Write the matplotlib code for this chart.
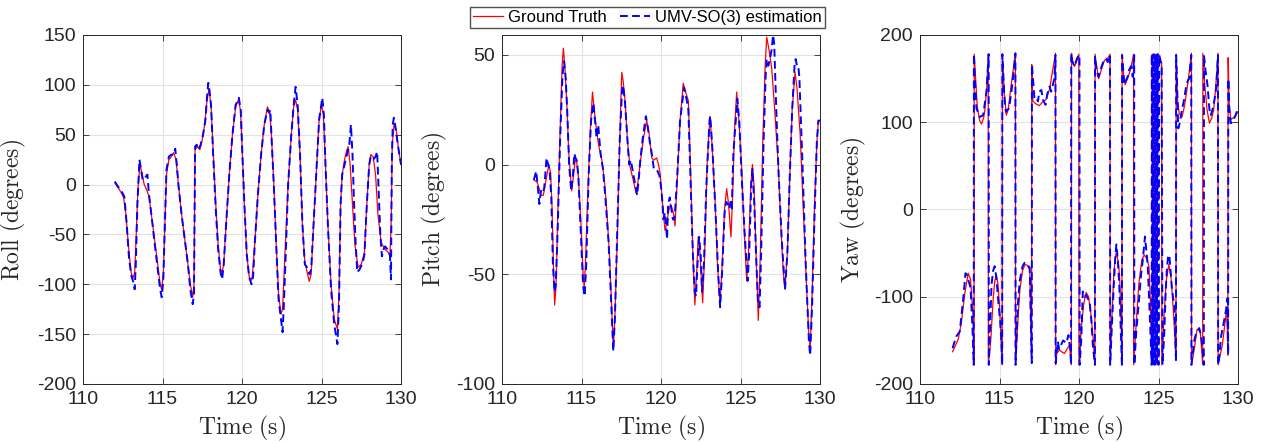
import numpy as np
import matplotlib
matplotlib.use('Agg')
import matplotlib.pyplot as plt

plt.rcParams['font.family'] = ['Liberation Sans', 'DejaVu Sans']
plt.rcParams['mathtext.fontset'] = 'cm'
plt.rcParams['axes.unicode_minus'] = False

# Roll (ground truth / estimation)
roll_gt_t = [112.0, 112.2, 112.4, 112.55, 112.7, 112.85, 113.0, 113.12, 113.25, 113.35, 113.45, 113.58, 113.7, 113.85,
             114.0, 114.15, 114.3, 114.5, 114.7, 114.85, 114.95, 115.05, 115.15, 115.25, 115.4, 115.55, 115.7, 115.85,
             116.0, 116.2, 116.4, 116.6, 116.75, 116.9, 116.98, 117.05, 117.2, 117.35, 117.5, 117.65, 117.8, 117.92,
             118.05, 118.2, 118.35, 118.5, 118.65, 118.75, 118.85, 119.0, 119.2, 119.4, 119.6, 119.77, 119.9, 120.0,
             120.15, 120.3, 120.45, 120.55, 120.65, 120.8, 121.0, 121.2, 121.4, 121.6, 121.75, 121.85, 122.0, 122.15,
             122.3, 122.45, 122.55, 122.7, 122.9, 123.1, 123.25, 123.37, 123.5, 123.65, 123.8, 123.95, 124.1, 124.23,
             124.35, 124.5, 124.7, 124.85, 125.0, 125.12, 125.25, 125.4, 125.6, 125.8, 126.0, 126.1, 126.2, 126.3,
             126.45, 126.6, 126.68, 126.8, 126.95, 127.1, 127.3, 127.5, 127.7, 127.85, 128.0, 128.1, 128.25, 128.4,
             128.55, 128.75, 129.0, 129.2, 129.3, 129.38, 129.45, 129.56, 129.7, 129.85, 130.0]
roll_gt = [2, -3, -8, -13, -30, -60, -85, -95, -88, -50, -5, 20, 12, 0,
           -5, -12, -30, -55, -80, -100, -105, -90, -40, 10, 25, 28, 32, 25,
           0, -30, -55, -80, -100, -113, -100, 35, 38, 35, 45, 60, 85, 95,
           80, 30, -20, -60, -85, -88, -80, -40, 10, 50, 78, 85, 75, 40,
           -20, -70, -92, -97, -92, -60, -10, 30, 60, 78, 72, 50, 0, -60,
           -110, -130, -125, -70, 0, 50, 78, 85, 75, 30, -40, -78, -88, -97,
           -90, -40, 20, 65, 80, 70, 20, -40, -100, -135, -145, -110, -20, 10,
           25, 35, 38, 20, -20, -60, -83, -80, -68, -20, 20, 30, 28, 10,
           -30, -58, -65, -68, -72, -40, 40, 60, 55, 35, 20]

roll_est_t = [112.0, 112.2, 112.4, 112.5, 112.6, 112.75, 112.9, 113.05, 113.15, 113.25, 113.32, 113.42, 113.55, 113.65,
              113.75, 113.85, 113.95, 114.05, 114.15, 114.3, 114.5, 114.7, 114.85, 114.95, 115.05, 115.15, 115.25,
              115.4, 115.55, 115.7, 115.8, 115.9, 116.0, 116.2, 116.4, 116.6, 116.75, 116.9, 116.98, 117.05, 117.15,
              117.25, 117.4, 117.55, 117.7, 117.82, 117.88, 117.95, 118.05, 118.2, 118.35, 118.5, 118.65, 118.75,
              118.85, 119.0, 119.2, 119.4, 119.6, 119.8, 119.92, 120.0, 120.15, 120.3, 120.45, 120.6, 120.7, 120.8,
              121.0, 121.2, 121.4, 121.6, 121.7, 121.78, 121.85, 122.0, 122.15, 122.3, 122.45, 122.55, 122.62, 122.75,
              122.9, 123.1, 123.25, 123.37, 123.5, 123.65, 123.8, 123.95, 124.05, 124.15, 124.25, 124.35, 124.5, 124.7,
              124.85, 125.05, 125.15, 125.25, 125.4, 125.6, 125.8, 126.0, 126.1, 126.2, 126.3, 126.45, 126.6, 126.75,
              126.85, 126.95, 127.05, 127.15, 127.25, 127.4, 127.6, 127.7, 127.85, 128.0, 128.1, 128.25, 128.4, 128.5,
              128.6, 128.7, 128.8, 128.9, 129.0, 129.15, 129.3, 129.37, 129.42, 129.48, 129.55, 129.65, 129.8, 130.0]
roll_est = [3, -2, -6, -9, -12, -40, -75, -92, -97, -105, -80, -20, 25, 15,
            5, 5, 8, 10, -10, -30, -58, -85, -105, -113, -95, -40, 15,
            28, 30, 30, 36, 20, 0, -30, -55, -80, -105, -120, -110, 38, 40,
            35, 40, 50, 65, 92, 102, 95, 80, 25, -25, -65, -88, -95,
            -80, -40, 10, 50, 80, 87, 75, 40, -20, -70, -93, -100, -92, -60,
            -10, 30, 60, 75, 72, 75, 50, 0, -60, -115, -135, -148, -125, -70,
            0, 50, 80, 98, 80, 30, -40, -80, -82, -85, -90, -85, -40, 20,
            65, 87, 70, 20, -40, -105, -140, -160, -120, -20, 10, 20, 30, 40,
            60, 30, -20, -60, -88, -85, -78, -70, -20, 20, 28, 25, 28, 33,
            -10, -50, -72, -65, -62, -65, -70, -95, 20, 60, 67, 58, 40, 20]

# Pitch
pitch_gt_t = [112.0, 112.2, 112.3, 112.45, 112.6, 112.77, 112.95, 113.06, 113.15, 113.25, 113.31, 113.4, 113.5, 113.65,
              113.78, 113.86, 113.95, 114.07, 114.2, 114.38, 114.5, 114.6, 114.7, 114.8, 114.95, 115.1, 115.17, 115.25,
              115.38, 115.55, 115.69, 115.8, 115.97, 116.1, 116.28, 116.45, 116.6, 116.75, 116.9, 117.0, 117.1, 117.26,
              117.4, 117.53, 117.62, 117.74, 117.9, 118.05, 118.25, 118.43, 118.55, 118.68, 118.9, 119.1, 119.25,
              119.42, 119.55, 119.73, 119.84, 119.94, 120.1, 120.25, 120.35, 120.46, 120.6, 120.78, 120.88, 121.0,
              121.2, 121.4, 121.55, 121.72, 121.85, 122.0, 122.13, 122.25, 122.34, 122.45, 122.62, 122.75, 122.9,
              123.08, 123.2, 123.4, 123.55, 123.71, 123.85, 124.0, 124.13, 124.25, 124.4, 124.5, 124.62, 124.76,
              124.9, 125.07, 125.2, 125.39, 125.5, 125.65, 125.75, 125.85, 126.0, 126.12, 126.25, 126.4, 126.55,
              126.65, 126.8, 126.96, 127.15, 127.38, 127.55, 127.7, 127.8, 127.95, 128.1, 128.25, 128.43, 128.55,
              128.75, 128.95, 129.15, 129.3, 129.38, 129.5, 129.65, 129.8, 129.9, 130.0]
pitch_gt = [-7, -8, -10, -14, -14, -7, 0, -4, -20, -50, -64, -55, -25, 14,
            45, 53, 45, 29, 5, -12, -5, 2, 1, -5, -25, -50, -56, -45,
            -16, 15, 33, 25, 14, 8, 2, -8, -22, -40, -65, -84, -70, -31,
            10, 42, 38, 29, 10, -1, -7, -13, -8, 0, 12, 20, 14,
            3, 2, 3, 0, -4, -18, -30, -27, -22, -18, -22, -28, -10,
            20, 37, 33, 29, 0, -40, -64, -48, -33, -40, -63, -40, 0,
            22, 10, -16, -45, -64, -45, -20, -11, -18, -33, -15, 15, 33,
            20, -1, -25, -53, -40, -10, 0, -10, -45, -71, -40, 10, 45,
            58, 52, 44, 25, -1, -30, -50, -56, -40, -5, 25, 42, 35,
            14, -20, -55, -78, -84, -60, -20, 10, 20, 20]

pitch_est_t = [112.0, 112.08, 112.15, 112.25, 112.35, 112.45, 112.55, 112.65, 112.72, 112.8, 112.9, 113.0, 113.1,
               113.2, 113.3, 113.38, 113.5, 113.65, 113.8, 113.9, 114.0, 114.1, 114.22, 114.35, 114.45, 114.55,
               114.62, 114.7, 114.8, 114.95, 115.1, 115.2, 115.3, 115.45, 115.6, 115.75, 115.85, 115.95, 116.05,
               116.12, 116.2, 116.35, 116.5, 116.7, 116.85, 117.0, 117.1, 117.25, 117.4, 117.55, 117.62, 117.74,
               117.9, 118.0, 118.1, 118.2, 118.35, 118.5, 118.62, 118.7, 118.85, 119.05, 119.15, 119.3, 119.42,
               119.55, 119.65, 119.78, 119.9, 120.0, 120.1, 120.15, 120.25, 120.32, 120.38, 120.45, 120.55, 120.65,
               120.75, 120.85, 121.0, 121.2, 121.45, 121.6, 121.72, 121.85, 122.0, 122.12, 122.2, 122.3, 122.4,
               122.5, 122.58, 122.7, 122.85, 123.05, 123.1, 123.25, 123.45, 123.6, 123.72, 123.85, 124.0, 124.1,
               124.2, 124.3, 124.38, 124.45, 124.55, 124.7, 124.8, 124.92, 125.07, 125.25, 125.45, 125.55, 125.68,
               125.75, 125.85, 126.0, 126.1, 126.2, 126.3, 126.45, 126.58, 126.65, 126.75, 126.85, 126.95, 127.05,
               127.12, 127.25, 127.4, 127.6, 127.8, 127.95, 128.1, 128.25, 128.4, 128.47, 128.55, 128.63, 128.7,
               128.9, 129.1, 129.3, 129.38, 129.5, 129.65, 129.8, 129.9, 130.0]
pitch_est = [-7, -5, -3, -10, -18, -12, -13, -11, -5, 3, 0, -3, -15,
             -45, -58, -55, -30, 10, 40, 47, 40, 25, 0, -12, -6, 5,
             3, 2, -5, -30, -55, -60, -45, -5, 20, 28, 20, 12, 18,
             12, 5, -2, -15, -35, -60, -85, -70, -30, 10, 34, 36, 28,
             10, 0, 2, -2, -8, -14, -5, 2, 12, 22, 18, 10, 5,
             -2, -2, -3, -5, -10, -18, -25, -22, -28, -34, -18, -15, -20,
             -25, -25, -8, 20, 35, 30, 25, -5, -40, -58, -60, -45, -33,
             -42, -58, -45, -10, 20, 22, 5, -25, -50, -65, -48, -22, -17,
             -18, -20, -17, -20, 5, 20, 30, 20, -5, -30, -53, -40, -8,
             -2, -15, -45, -63, -65, -40, 10, 40, 48, 45, 48, 52, 59,
             55, 25, -5, -35, -57, -40, -5, 25, 45, 48, 45, 45, 40,
             0, -45, -80, -87, -65, -25, 10, 20, 20]

# Yaw (wrapped to +/-180)
yaw_gt_t = [112.05, 112.2, 112.4, 112.6, 112.82, 113.03, 113.18, 113.34, 113.4, 113.41, 113.5, 113.6, 113.75, 113.87,
            114.0, 114.08, 114.2, 114.29, 114.3, 114.45, 114.6, 114.7, 114.8, 114.9, 115.0, 115.15, 115.17, 115.18,
            115.3, 115.43, 115.55, 115.75, 115.9, 116.0, 116.01, 116.15, 116.28, 116.45, 116.6, 116.75, 116.9,
            117.02, 117.03, 117.1, 117.3, 117.5, 117.7, 117.93, 118.15, 118.35, 118.52, 118.53, 118.6, 118.77,
            118.9, 119.08, 119.25, 119.4, 119.52, 119.53, 119.6, 119.72, 119.85, 119.99, 120.0, 120.15, 120.3,
            120.45, 120.6, 120.75, 120.9, 121.0, 121.01, 121.1, 121.24, 121.4, 121.6, 121.8, 121.95, 121.96, 122.1,
            122.2, 122.33, 122.45, 122.55, 122.65, 122.7, 122.71, 122.8, 122.9, 123.05, 123.2, 123.35, 123.43,
            123.44, 123.6, 123.77, 123.95, 124.1, 124.25, 124.4, 124.5, 124.6, 124.61, 124.67, 124.72, 124.78,
            124.84, 124.9, 124.96, 125.0, 125.1, 125.2, 125.21, 125.35, 125.5, 125.65, 125.8, 125.95, 126.1, 126.11,
            126.2, 126.3, 126.48, 126.65, 126.8, 126.95, 127.07, 127.08, 127.25, 127.42, 127.55, 127.63, 127.78,
            127.79, 127.9, 128.05, 128.2, 128.35, 128.47, 128.6, 128.74, 128.75, 128.9, 129.0, 129.15, 129.3,
            129.36, 129.38, 129.45, 129.55, 129.7, 129.85, 130.0]
yaw_gt = [-163, -157, -149, -130, -96, -73, -80, -122, -178, 178, 150, 118, 102, 98,
          105, 114, 140, 178, -178, -150, -103, -82, -75, -85, -111, -170, -178, 178,
          135, 108, 115, 145, 165, 179, -178, -130, -92, -70, -63, -64, -69,
          -176, 166, 124, 121, 119, 123, 126, 138, 160, 179, -178, -165, -161,
          -163, -165, -160, -155, -178, 179, 170, 164, 170, 178, -178, -135, -108,
          -95, -100, -120, -150, -178, 178, 165, 150, 160, 171, 173, 178, -178, -110,
          -70, -50, -58, -75, -130, -178, 178, 155, 143, 150, 158, 170, 178,
          -178, -130, -84, -58, -52, -56, -65, -110, -178, 178, -178, 178, -178,
          178, -178, 178, 178, 172, 168, -178, -120, -80, -63, -80, -120, -172, 178,
          125, 110, 106, 120, 139, 160, 179, -178, -160, -138, -136, -140, -178,
          179, 145, 115, 99, 105, 114, 140, 179, -178, -165, -157, -135, -113,
          -167, 174, 120, 103, 105, 108, 112]

yaw_est_t = [112.05, 112.2, 112.3, 112.5, 112.72, 112.86, 112.95, 113.03, 113.18, 113.3, 113.38, 113.39, 113.45,
             113.55, 113.76, 113.97, 114.18, 114.32, 114.33, 114.42, 114.5, 114.6, 114.7, 114.8, 114.91, 115.05,
             115.12, 115.17, 115.18, 115.3, 115.4, 115.6, 115.75, 115.85, 116.0, 116.01, 116.15, 116.27, 116.45,
             116.58, 116.75, 116.9, 117.03, 117.04, 117.2, 117.3, 117.42, 117.5, 117.63, 117.75, 117.9, 118.0,
             118.15, 118.25, 118.36, 118.45, 118.52, 118.53, 118.67, 118.75, 118.88, 119.0, 119.2, 119.34, 119.45,
             119.5, 119.51, 119.57, 119.72, 119.85, 119.93, 120.03, 120.04, 120.14, 120.24, 120.35, 120.45, 120.55,
             120.66, 120.77, 120.87, 121.0, 121.01, 121.1, 121.22, 121.35, 121.5, 121.6, 121.7, 121.81, 121.95,
             121.96, 122.1, 122.19, 122.28, 122.35, 122.45, 122.54, 122.65, 122.7, 122.71, 122.85, 122.95, 123.06,
             123.15, 123.27, 123.38, 123.47, 123.48, 123.6, 123.8, 123.9, 124.0, 124.15, 124.25, 124.32, 124.45,
             124.57, 124.58, 124.64, 124.7, 124.76, 124.82, 124.88, 124.94, 125.0, 125.05, 125.15,
             125.2, 125.25, 125.36, 125.45, 125.53, 125.6, 125.68, 125.76, 125.84, 125.95, 126.0, 126.1, 126.11,
             126.16, 126.24, 126.35, 126.45, 126.6, 126.72, 126.85, 126.93, 127.06, 127.07, 127.12, 127.25, 127.35,
             127.45, 127.56, 127.68, 127.77, 127.85, 127.86, 127.95, 128.08, 128.2, 128.29, 128.4, 128.5, 128.6,
             128.66, 128.74, 128.75, 128.85, 128.92, 129.05, 129.12, 129.25, 129.33, 129.38, 129.39, 129.45, 129.54,
             129.65, 129.71, 129.85, 129.96, 130.0]
yaw_est = [-159, -150, -145, -140, -102, -73, -75, -80, -90, -136, -178, 178, 150,
           116, 106, 108, 135, 178, -178, -130, -86, -70, -65, -78, -102, -130,
           -151, -178, 178, 130, 112, 116, 135, 150, 179, -178, -110, -82, -65,
           -61, -63, -67, -176, 166, 127, 128, 124, 135, 137, 125, 120, 132,
           141, 135, 143, 150, 177, -176, -151, -160, -155, -150, -153, -144, -160,
           -178, 178, 170, 164, 172, 175, 177, -178, -150, -94, -100, -98, -102,
           -105, -125, -155, -178, 175, 160, 152, 160, 168, 172, 173, 169, 177,
           -178, -120, -86, -55, -40, -60, -90, -150, -178, 177, 143, 148, 152,
           160, 164, 152, 177, -178, -140, -98, -75, -60, -31, -50, -63, -120,
           -178, 178, -178, 178, -178, 178, -178, 178, -178, 177, 168,
           164, -178, -143, -95, -67, -55, -52, -70, -90, -105, -109, -174, 177,
           150, 93, 100, 112, 125, 139, 148, 150, 177, -178, -170, -150, -143,
           -140, -136, -145, -159, -178, 177, 160, 143, 115, 108, 115, 124, 135,
           150, 177, -178, -165, -147, -135, -128, -115, -102, -166, 150, 115, 99,
           100, 103, 108, 114, 115]

panels = [
    (roll_gt_t, roll_gt, roll_est_t, roll_est, r'$\mathrm{Roll\ (degrees)}$', (-200, 150),
     [-200, -150, -100, -50, 0, 50, 100, 150], 83, -0.173),
    (pitch_gt_t, pitch_gt, pitch_est_t, pitch_est, r'$\mathrm{Pitch\ (degrees)}$', (-100, 59),
     [-100, -50, 0, 50], 502, -0.167),
    (yaw_gt_t, yaw_gt, yaw_est_t, yaw_est, r'$\mathrm{Yaw\ (degrees)}$', (-200, 200),
     [-200, -100, 0, 100, 200], 920, -0.163),
]

fig = plt.figure(figsize=(12.71, 4.43), dpi=100)
W, H = 1271, 443
for tg, yg, te, ye, lab, ylim, yticks, left, lx in panels:
    ax = fig.add_axes([left / W, (H - 384) / H, 318 / W, 349 / H])
    ax.plot(tg, yg, color='red', lw=0.9, label='Ground Truth')
    ax.plot(te, ye, color='blue', lw=1.4, ls=(0, (4, 2.2)), label='UMV-SO(3) estimation')
    ax.set_xlim(110, 130)
    ax.set_ylim(*ylim)
    ax.set_xticks([110, 115, 120, 125, 130])
    ax.set_yticks(yticks)
    ax.grid(True, color='#e3e3e3', lw=0.8)
    ax.set_axisbelow(True)
    ax.tick_params(direction='in', top=True, right=True, length=4, width=0.6,
                   labelsize=14, colors='#262626', pad=5)
    for sp in ax.spines.values():
        sp.set_color('#262626')
        sp.set_linewidth(0.7)
    ax.set_ylabel(lab, fontsize=17, color='#262626')
    ax.set_xlabel(r'$\mathrm{Time\ (s)}$', fontsize=17, color='#262626')
    ax.yaxis.set_label_coords(lx, 0.5)
    ax.xaxis.set_label_coords(0.5, -0.085)
    if left == 502:
        handles, labels = ax.get_legend_handles_labels()

fig.legend(handles, labels, loc='center', bbox_to_anchor=(0.5094, 0.9605), ncol=2,
           fontsize=12, frameon=True, fancybox=False, edgecolor='#262626',
           handlelength=1.8, handletextpad=0.3, columnspacing=0.8, borderpad=0.2,
           borderaxespad=0)

fig.savefig('out.png', dpi=100)
